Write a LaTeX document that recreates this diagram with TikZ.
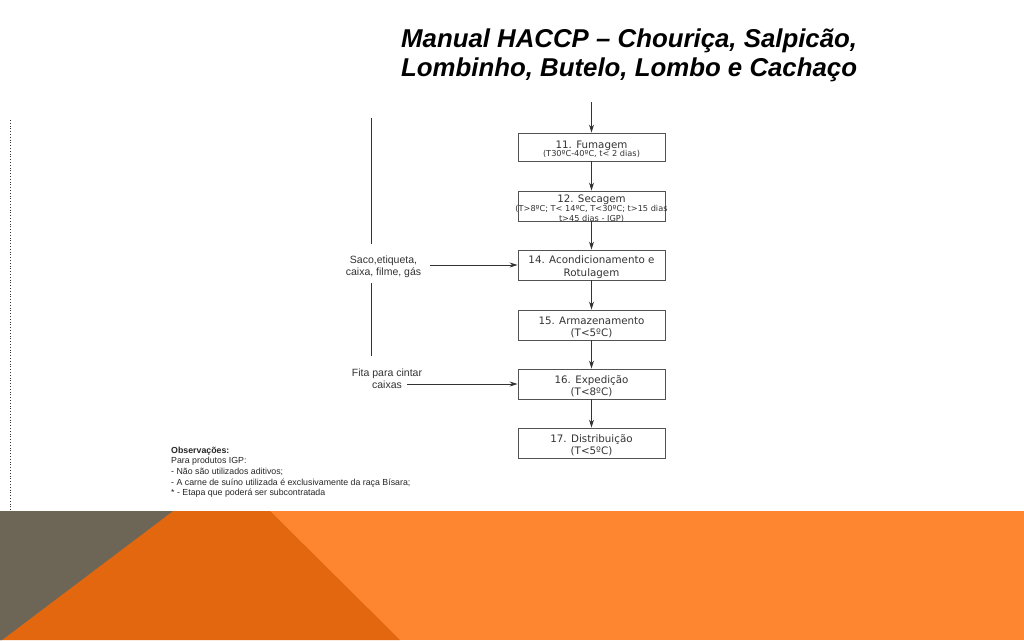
\documentclass[tikz,border=0pt]{standalone}
\usepackage{fontspec}
\setmainfont{Liberation Sans}
\newfontfamily\boxfont{DejaVu Sans}
\usetikzlibrary{arrows.meta}
\definecolor{bandgray}{HTML}{6D6656}
\definecolor{banddark}{HTML}{E2670F}
\definecolor{bandlight}{HTML}{FF8631}
\definecolor{ink}{HTML}{333333}
\newcommand{\smallsz}{\fontsize{8.2}{9.5}\selectfont}
\newcommand{\tstrut}{\rule{0pt}{12pt}}
\begin{document}
\begin{tikzpicture}[x=1pt,y=-1pt,
  box/.style={draw=ink!85, line width=0.9pt, minimum width=147pt, inner sep=0pt, align=center,
    text=ink, font=\boxfont\fontsize{10.3}{12.5}\selectfont},
  flow/.style={draw=ink, line width=0.8pt, -{Stealth[length=8pt,width=5pt]}},
  plain/.style={draw=ink, line width=0.8pt},
  lbl/.style={align=center, text=ink, inner sep=0pt, font=\fontsize{10.5}{12.5}\selectfont}
]
\useasboundingbox (0,0) rectangle (1024,640);
\fill[white] (0,0) rectangle (1024,640);

% title
\node[anchor=base west, inner sep=0pt, font=\bfseries\itshape\fontsize{25.8}{29.5}\selectfont] (t1) at (401,47) {Manual HACCP -- Chouriça, Salpicão,};
\node[anchor=base west, inner sep=0pt, font=\bfseries\itshape\fontsize{25.8}{29.5}\selectfont] (t2) at (401,76.5) {Lombinho, Butelo, Lombo e Cachaço};

% dotted page edge
\coordinate (d1) at (10,120);
\coordinate (d2) at (10,510);
\draw[ink, line width=0.8pt, dotted] (d1) -- (d2);

% boxes
\node[box, minimum height=28pt] (b11) at (591.5,147) {\tstrut 11. Fumagem\\[-4pt]\smallsz (T30ºC-40ºC, t< 2 dias)};
\node[box, minimum height=30pt] (b12) at (591.5,206) {\raisebox{-5.5pt}[0pt][0pt]{\begin{tabular}{@{}c@{}}12. Secagem\\[-3.5pt]\smallsz\makebox[140pt][c]{(T>8ºC; T< 14ºC, T<30ºC; t>15 dias}\\[-2.5pt]\smallsz t>45 dias - IGP)\end{tabular}}};
\node[box, minimum height=30pt] (b14) at (591.5,265) {\tstrut 14. Acondicionamento e\\Rotulagem};
\node[box, minimum height=30pt] (b15) at (591.5,325) {\tstrut 15. Armazenamento\\(T<5ºC)};
\node[box, minimum height=30pt] (b16) at (591.5,384) {\tstrut 16. Expedição\\(T<8ºC)};
\node[box, minimum height=30pt] (b17) at (591.5,443) {\tstrut 17. Distribuição\\(T<5ºC)};

\coordinate (in11) at (591.5,102);
\draw[flow] (in11) -- (b11.north);
\draw[flow] (b11) -- (b12);
\draw[flow] (b12) -- (b14);
\draw[flow] (b14) -- (b15);
\draw[flow] (b15) -- (b16);
\draw[flow] (b16) -- (b17);

% side inputs
\coordinate (v1) at (371,118);
\coordinate (v2) at (371,244);
\coordinate (v3) at (371,283);
\coordinate (v4) at (371,356);
\draw[plain] (v1) -- (v2);
\draw[plain] (v3) -- (v4);

\node[lbl] (saco) at (383.5,267) {Saco,etiqueta,\\caixa, filme, gás};
\node[lbl] (fita) at (387,378.5) {Fita para cintar\\caixas};
\coordinate (s0) at (430,265);
\coordinate (f0) at (407,384);
\draw[flow] (s0) -- (b14.west);
\draw[flow] (f0) -- (b16.west);

% observations
\node[anchor=north west, align=left, inner sep=0pt, text=black!85, font=\fontsize{8.8}{10.7}\selectfont] (obs) at (171,446.5)
 {\textbf{Observações:}\\Para produtos IGP:\\- Não são utilizados aditivos;\\- A carne de suíno utilizada é exclusivamente da raça Bísara;\\* - Etapa que poderá ser subcontratada};

% bottom band
\fill[bandlight] (0,511) rectangle (1024,640);
\fill[banddark] (0,511) -- (270,511) -- (400,640) -- (0,640) -- cycle;
\fill[bandgray] (0,511) -- (173,511) -- (2,640) -- (0,640) -- cycle;
\end{tikzpicture}
\end{document}
